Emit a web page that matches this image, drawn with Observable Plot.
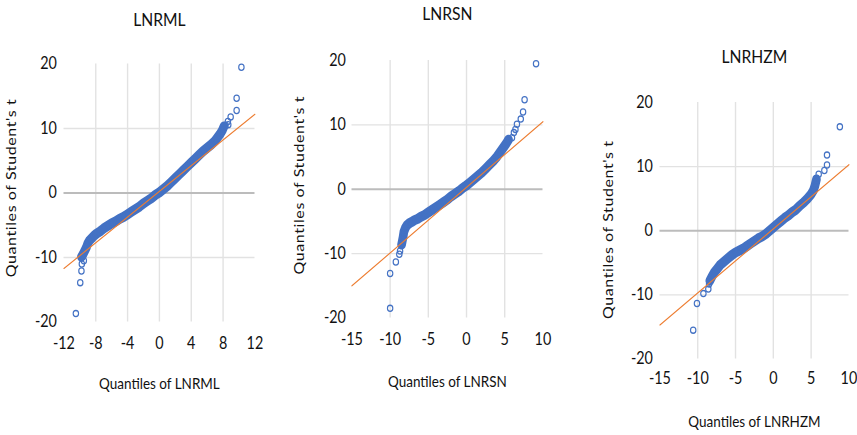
<!DOCTYPE html>
<html>
<head>
<meta charset="utf-8">
<script src="https://cdn.jsdelivr.net/npm/d3@7"></script>
<script src="https://cdn.jsdelivr.net/npm/@observablehq/plot@0.6"></script>
<style>
  html, body { margin: 0; padding: 0; background: #fff; }
  #wrap { position: relative; width: 857px; height: 435px; overflow: hidden; background: #fff; }
  .panel { position: absolute; top: 0; transform-origin: 0 0; }
  .panel svg { background: transparent !important; overflow: visible; }
  g[aria-label="text"] text[transform*="rotate"] { letter-spacing: 0.6px; }
</style>
</head>
<body>
<div id="wrap"></div>
<script>
// ---------- data ----------
const titles = ["LNRML", "LNRSN", "LNRHZM"];
const xLabels = ["Quantiles of LNRML", "Quantiles of LNRSN", "Quantiles of LNRHZM"];
const yLabel = "Quantiles of Student's t";

const yTicks = [-20, -10, 0, 10, 20];
const lnrmlXTicks = [-12, -8, -4, 0, 4, 8, 12];
const lnrsnXTicks = [-15, -10, -5, 0, 5, 10];
const lnrhzmXTicks = [-15, -10, -5, 0, 5, 10];

// LNRML dense band
const lnrmlBandX = [-9.8,-9.6,-9.4,-9.2,-9.0,-8.8,-8.5,-8.2,-7.9,-7.5,-7.0,-6.5,-6.0,-5.5,-5.0,-4.5,-4.0,-3.5,-3.0,-2.5,-2.0,-1.5,-1.0,-0.5,0,0.5,1.0,1.5,2.0,2.5,3.0,3.5,4.0,4.5,5.0,5.5,6.0,6.5,7.0,7.3,7.6,7.9,8.1];
const lnrmlBandY = [-9.9,-9.5,-9.0,-8.5,-7.8,-7.4,-7.0,-6.6,-6.3,-6.0,-5.5,-5.1,-4.7,-4.4,-4.0,-3.7,-3.3,-2.9,-2.5,-2.1,-1.6,-1.2,-0.8,-0.3,0.1,0.6,1.1,1.7,2.3,2.9,3.5,4.1,4.7,5.3,5.9,6.5,7.0,7.5,8.1,8.6,9.1,9.7,10.3];
// LNRML tails
const lnrmlTailX = [-10.5,-9.95,-9.8,-9.75,-9.5,8.3,8.65,8.6,8.95,9.7,9.7,10.3];
const lnrmlTailY = [-18.7,-13.9,-12.1,-11.0,-10.5,10.5,10.6,11.1,11.8,12.8,14.7,19.5];
// LNRML reference line end points
const lnrmlLineX = [-12, 12];
const lnrmlLineY = [-11.7, 12.2];

// LNRSN dense band
const lnrsnBandX = [-8.5,-8.4,-8.3,-8.2,-8.0,-7.8,-7.5,-7.2,-6.8,-6.4,-6.0,-5.5,-5.0,-4.5,-4.0,-3.5,-3.0,-2.5,-2.0,-1.5,-1.0,-0.5,0,0.5,1.0,1.5,2.0,2.5,3.0,3.5,4.0,4.3,4.6,4.9,5.2,5.5];
const lnrsnBandY = [-8.6,-8.0,-7.4,-6.6,-6.0,-5.6,-5.3,-5.1,-4.8,-4.6,-4.3,-4.0,-3.6,-3.2,-2.8,-2.4,-2.0,-1.6,-1.1,-0.7,-0.3,0.2,0.6,1.1,1.6,2.1,2.6,3.2,3.8,4.4,5.1,5.6,6.1,6.6,7.1,7.7];
// LNRSN tails
const lnrsnTailX = [-10.0,-10.0,-9.25,-8.8,-8.7,5.95,6.2,6.4,6.6,7.1,7.4,7.6,9.1];
const lnrsnTailY = [-18.5,-13.1,-11.3,-10.1,-9.6,8.0,8.8,9.3,10.1,10.9,12.0,13.9,19.5];
const lnrsnLineX = [-15, 10];
const lnrsnLineY = [-15.0, 10.5];

// LNRHZM dense band
const lnrhzmBandX = [-8.4,-8.1,-7.8,-7.4,-7.0,-6.5,-6.0,-5.5,-5.0,-4.5,-4.0,-3.5,-3.0,-2.5,-2.0,-1.5,-1.0,-0.5,0,0.5,1.0,1.5,2.0,2.5,3.0,3.5,4.0,4.5,5.0,5.3,5.5,5.6,5.7];
const lnrhzmBandY = [-7.8,-7.1,-6.5,-5.9,-5.3,-4.8,-4.3,-3.8,-3.4,-3.1,-2.8,-2.4,-2.0,-1.6,-1.2,-0.9,-0.5,0,0.5,1.0,1.5,2.0,2.4,2.9,3.3,3.9,4.4,5.0,5.7,6.3,7.0,7.5,8.0];
// LNRHZM tails
const lnrhzmTailX = [-10.6,-10.1,-9.25,-8.6,-8.5,6.0,6.75,7.1,7.1,8.8];
const lnrhzmTailY = [-15.5,-11.35,-9.8,-9.1,-8.3,8.8,9.4,10.25,11.8,16.2];
const lnrhzmLineX = [-15, 10];
const lnrhzmLineY = [-14.7, 10.3];

// ---------- drawing ----------
const BLUE = "#4472C4", ORANGE = "#ED7D31";
const FONT = "Lato, 'Open Sans', sans-serif";
const S = 0.87; // horizontal squeeze of the original picture

const zip = (xs, ys) => xs.map((x, i) => ({x, y: ys[i]}));

const panels = [
  {left: 0, width: 290, title: titles[0], xlab: xLabels[0], xTicks: lnrmlXTicks,
   band: zip(lnrmlBandX, lnrmlBandY), tail: zip(lnrmlTailX, lnrmlTailY), line: zip(lnrmlLineX, lnrmlLineY),
   mL: 63.5, mR: 35.5, mT: 63.5, mB: 113.5, titleDy: -43.5, xlabDy: 62.5, ylabDx: -52, ylabDy: -5, xPad: 15, yPad: 7},
  {left: 290, width: 280, title: titles[1], xlab: xLabels[1], xTicks: lnrsnXTicks,
   band: zip(lnrsnBandX, lnrsnBandY), tail: zip(lnrsnTailX, lnrsnTailY), line: zip(lnrsnLineX, lnrsnLineY),
   mL: 61.5, mR: 27.5, mT: 60, mB: 117.5, titleDy: -46, xlabDy: 64.5, ylabDx: -52.5, ylabDy: -4, xPad: 15, yPad: 6},
  {left: 570, width: 287, title: titles[2], xlab: xLabels[2], xTicks: lnrhzmXTicks,
   band: zip(lnrhzmBandX, lnrhzmBandY), tail: zip(lnrhzmTailX, lnrhzmTailY), line: zip(lnrhzmLineX, lnrhzmLineY),
   mL: 89.5, mR: 8.5, mT: 102, mB: 76.5, titleDy: -45.3, xlabDy: 63, ylabDx: -51.5, ylabDy: -1, xPad: 13, yPad: 7}
];

const wrap = document.getElementById("wrap");
for (const p of panels) {
  const xDom = [p.xTicks[0], p.xTicks[p.xTicks.length - 1]];
  const gridX = p.xTicks.slice(1, -1);
  const chart = Plot.plot({
    width: p.width / S,
    height: 435,
    marginLeft: p.mL / S, marginRight: p.mR / S, marginTop: p.mT, marginBottom: p.mB,
    style: {fontSize: "16.5px", fontFamily: FONT, color: "#111", background: "transparent", overflow: "visible"},
    x: {domain: xDom, ticks: p.xTicks, tickSize: 0, tickPadding: p.xPad, tickFormat: d => String(d), label: null},
    y: {domain: [-20, 20], ticks: yTicks, tickSize: 0, tickPadding: p.yPad / S, tickFormat: d => String(d), label: null},
    marks: [
      Plot.ruleX(gridX, {y1: -20, y2: 20, stroke: "#e2e2e2", strokeWidth: 1.6}),
      Plot.ruleY([-10, 10], {stroke: "#e2e2e2", strokeWidth: 1.4}),
      Plot.ruleY([0], {stroke: "#bcbcbc", strokeWidth: 2}),
      Plot.line(p.band, {x: "x", y: "y", stroke: BLUE, strokeWidth: 10, strokeLinecap: "round", strokeLinejoin: "round"}),
      Plot.dot(p.band, {x: "x", y: "y", r: 3.3, stroke: BLUE, strokeWidth: 1.4, fill: "none"}),
      Plot.dot(p.tail, {x: "x", y: "y", r: 3.1, stroke: BLUE, strokeWidth: 1.3, fill: "none"}),
      Plot.line(p.line, {x: "x", y: "y", stroke: ORANGE, strokeWidth: 1.2}),
      Plot.text([p.title], {frameAnchor: "top", lineAnchor: "middle", dy: p.titleDy, fontSize: 18, fill: "#111"}),
      Plot.text([p.xlab], {frameAnchor: "bottom", lineAnchor: "middle", dy: p.xlabDy, fontSize: 15.5, fill: "#111"}),
      Plot.text([yLabel], {frameAnchor: "left", textAnchor: "middle", lineAnchor: "middle", dx: p.ylabDx / S, dy: p.ylabDy, rotate: -90, fontSize: 16, fill: "#111"})
    ]
  });
  const div = document.createElement("div");
  div.className = "panel";
  div.style.left = p.left + "px";
  div.style.width = (p.width / S) + "px";
  div.style.transform = `scaleX(${S})`;
  div.appendChild(chart);
  wrap.appendChild(div);
}
</script>
</body>
</html>
